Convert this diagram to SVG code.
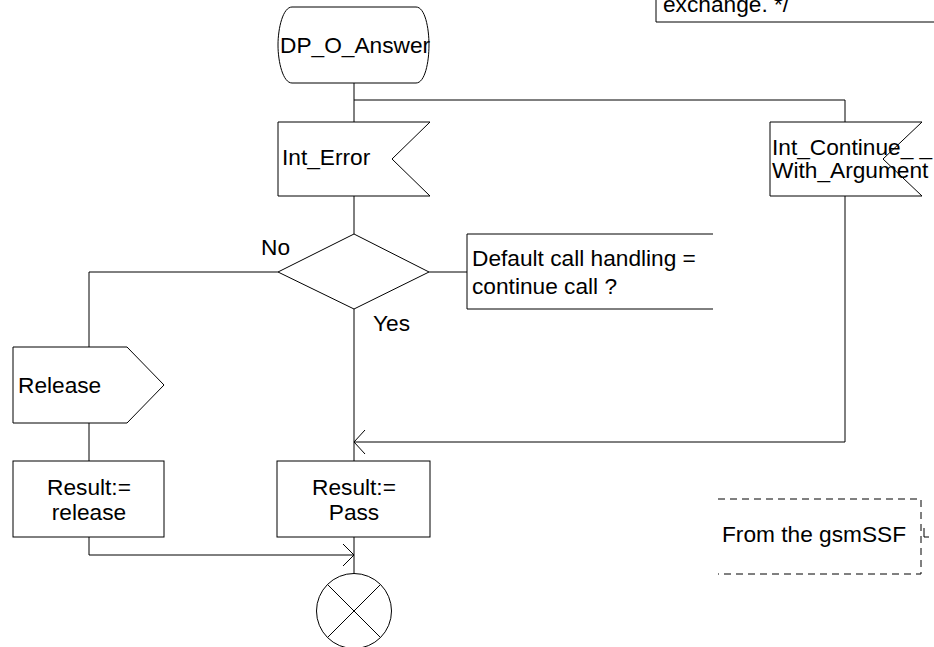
<svg xmlns="http://www.w3.org/2000/svg" width="934" height="647" viewBox="0 0 934 647">
<style>
.s{fill:#fff;stroke:#000;stroke-width:1}
.l{fill:none;stroke:#000;stroke-width:1}
.d{fill:none;stroke:#000;stroke-width:1;stroke-dasharray:7 5}
text{font-family:"Liberation Sans",Arial,sans-serif;font-size:22.7px;fill:#000}
.c{text-anchor:middle}
</style>
<rect width="934" height="647" fill="#fff"/>
<g id="connectors">
<path class="l" d="M354,83 V122"/>
<path class="l" d="M354,100 H845 V122"/>
<path class="l" d="M354,196 V234"/>
<path class="l" d="M429,272 H467"/>
<path class="l" d="M278,272 H89 V347"/>
<path class="l" d="M89,423 V461"/>
<path class="l" d="M354,309 V461"/>
<path class="l" d="M845,196 V442 H354"/>
<path class="l" d="M365,430 L354,442 L365,454"/>
<path class="l" d="M354,537 V574"/>
<path class="l" d="M89,537 V555 H354"/>
<path class="l" d="M343,544 L354,555 L343,566"/>
</g>
<g id="comment_top">
<path class="l" d="M656,0 V22 H934"/>
<text x="663" y="12">exchange. */</text>
</g>
<g id="start">
<path class="s" d="M292,7 H416 C425,7 429,28 429,45 C429,62 425,83 416,83 H292 C283,83 278,62 278,45 C278,28 283,7 292,7 Z"/>
<text x="280" y="53">DP_O_Answer</text>
</g>
<g id="int_error">
<polygon class="s" points="278,122 430,122 392,159 430,196 278,196"/>
<text x="282" y="165">Int_Error</text>
</g>
<g id="int_continue">
<polygon class="s" points="770,122 922,122 883,159 922,196 770,196"/>
<text x="772" y="155">Int_Continue_ _</text>
<text x="772" y="178">With_Argument</text>
</g>
<g id="decision">
<polygon class="s" points="278,272 354,234 429,272 354,309"/>
<text x="261" y="255">No</text>
<text x="373" y="331">Yes</text>
</g>
<g id="decision_comment">
<path class="l" d="M713,234 H467 V309 H713"/>
<text x="472" y="266">Default call handling =</text>
<text x="472" y="294">continue call ?</text>
</g>
<g id="release">
<polygon class="s" points="13,347 127,347 164,385 127,423 13,423"/>
<text x="18" y="393">Release</text>
</g>
<g id="result_release">
<rect class="s" x="13" y="461" width="151" height="76"/>
<text class="c" x="89" y="495">Result:=</text>
<text class="c" x="89" y="520">release</text>
</g>
<g id="result_pass">
<rect class="s" x="277" y="461" width="153" height="76"/>
<text class="c" x="354" y="495">Result:=</text>
<text class="c" x="354" y="520">Pass</text>
</g>
<g id="stop">
<circle class="s" cx="354" cy="611" r="37.5"/>
<path class="l" d="M327.5,584.5 L380.5,637.5 M380.5,584.5 L327.5,637.5"/>
</g>
<g id="gsmssf_note">
<path class="d" d="M718,499 H921 V574 H718"/>
<path class="l" d="M924,528 V537 H929"/>
<text x="722" y="542">From the gsmSSF</text>
</g>
</svg>
